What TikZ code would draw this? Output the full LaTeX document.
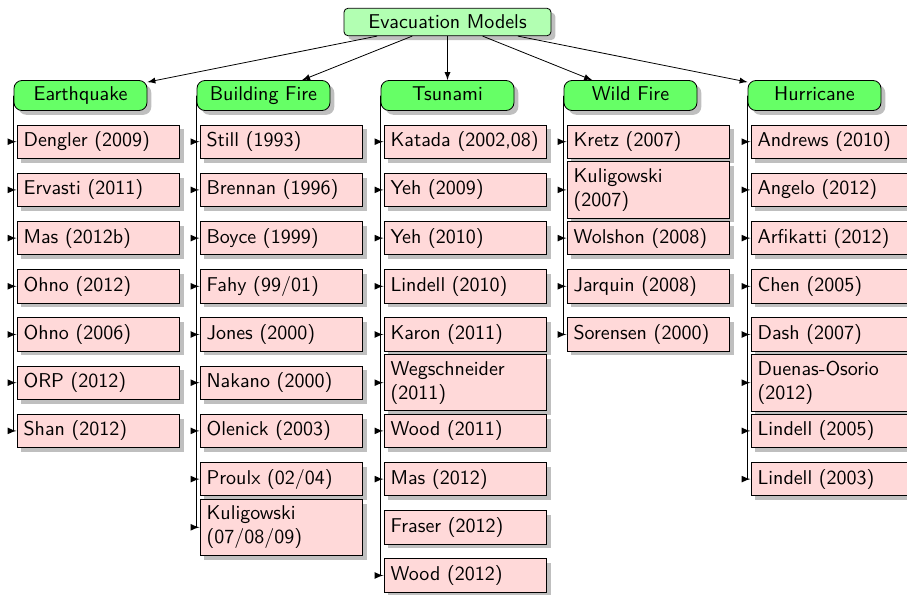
\documentclass[tikz,border=0pt]{standalone}
\usetikzlibrary{shadows,arrows}
\begin{document}
\begin{tikzpicture}[x=0.5pt,y=-0.5pt,>=latex,font=\sffamily,
  rootbox/.style={draw,fill=green!30,rounded corners=2pt,drop shadow,minimum width=103.5pt,minimum height=13pt},
  catbox/.style={draw,fill=green!60,rounded corners=4pt,drop shadow,minimum width=66.5pt,text height=7pt,text depth=2pt,inner ysep=3pt},
  refbox/.style={draw,fill=red!15,drop shadow,text width=74.8pt,align=left,anchor=west},
  branch/.style={->,line width=0.55pt}]
\useasboundingbox (0,0) rectangle (907,595);
% root and categories
\node[rootbox] (root) at (447.5,22) {Evacuation Models};
\node[catbox] (eq) at (80.5,95.5) {Earthquake};
\node[catbox] (bf) at (263.5,95.5) {Building Fire};
\node[catbox] (ts) at (447.5,95.5) {Tsunami};
\node[catbox] (wf) at (630.5,95.5) {Wild Fire};
\node[catbox] (hu) at (814.5,95.5) {Hurricane};
\foreach \c in {eq,bf,ts,wf,hu} \draw[->] (root) -- (\c);
% Earthquake
\node[refbox] (eq1) at (16.5,141.7) {Dengler (2009)};
\node[refbox] (eq2) at (16.5,189.9) {Ervasti (2011)};
\node[refbox] (eq3) at (16.5,238.1) {Mas (2012b)};
\node[refbox] (eq4) at (16.5,286.3) {Ohno (2012)};
\node[refbox] (eq5) at (16.5,334.5) {Ohno (2006)};
\node[refbox] (eq6) at (16.5,382.7) {ORP (2012)};
\node[refbox] (eq7) at (16.5,430.9) {Shan (2012)};
% Building Fire
\node[refbox] (bf1) at (199.5,141.7) {Still (1993)};
\node[refbox] (bf2) at (199.5,189.9) {Brennan (1996)};
\node[refbox] (bf3) at (199.5,238.1) {Boyce (1999)};
\node[refbox] (bf4) at (199.5,286.3) {Fahy (99/01)};
\node[refbox] (bf5) at (199.5,334.5) {Jones (2000)};
\node[refbox] (bf6) at (199.5,382.7) {Nakano (2000)};
\node[refbox] (bf7) at (199.5,430.9) {Olenick (2003)};
\node[refbox] (bf8) at (199.5,479.1) {Proulx (02/04)};
\node[refbox] (bf9) at (199.5,527.3) {Kuligowski\\(07/08/09)};
% Tsunami
\node[refbox] (ts1) at (383.5,141.7) {Katada (2002,08)};
\node[refbox] (ts2) at (383.5,189.9) {Yeh (2009)};
\node[refbox] (ts3) at (383.5,238.1) {Yeh (2010)};
\node[refbox] (ts4) at (383.5,286.3) {Lindell (2010)};
\node[refbox] (ts5) at (383.5,334.5) {Karon (2011)};
\node[refbox] (ts6) at (383.5,382.7) {Wegschneider\\(2011)};
\node[refbox] (ts7) at (383.5,430.9) {Wood (2011)};
\node[refbox] (ts8) at (383.5,479.1) {Mas (2012)};
\node[refbox] (ts9) at (383.5,527.3) {Fraser (2012)};
\node[refbox] (ts10) at (383.5,575.5) {Wood (2012)};
% Wild Fire
\node[refbox] (wf1) at (566.5,141.7) {Kretz (2007)};
\node[refbox] (wf2) at (566.5,189.9) {Kuligowski\\(2007)};
\node[refbox] (wf3) at (566.5,238.1) {Wolshon (2008)};
\node[refbox] (wf4) at (566.5,286.3) {Jarquin (2008)};
\node[refbox] (wf5) at (566.5,334.5) {Sorensen (2000)};
% Hurricane
\node[refbox] (hu1) at (750.5,141.7) {Andrews (2010)};
\node[refbox] (hu2) at (750.5,189.9) {Angelo (2012)};
\node[refbox] (hu3) at (750.5,238.1) {Arfikatti (2012)};
\node[refbox] (hu4) at (750.5,286.3) {Chen (2005)};
\node[refbox] (hu5) at (750.5,334.5) {Dash (2007)};
\node[refbox] (hu6) at (750.5,382.7) {Duenas-Osorio\\(2012)};
\node[refbox] (hu7) at (750.5,430.9) {Lindell (2005)};
\node[refbox] (hu8) at (750.5,479.1) {Lindell (2003)};
% connectors
\foreach \i in {1,...,7} \draw[branch] (eq.west) |- (eq\i.west);
\foreach \i in {1,...,9} \draw[branch] (bf.west) |- (bf\i.west);
\foreach \i in {1,...,8,10} \draw[branch] (ts.west) |- (ts\i.west);
\foreach \i in {1,...,5} \draw[branch] (wf.west) |- (wf\i.west);
\foreach \i in {1,...,8} \draw[branch] (hu.west) |- (hu\i.west);
\end{tikzpicture}
\end{document}
